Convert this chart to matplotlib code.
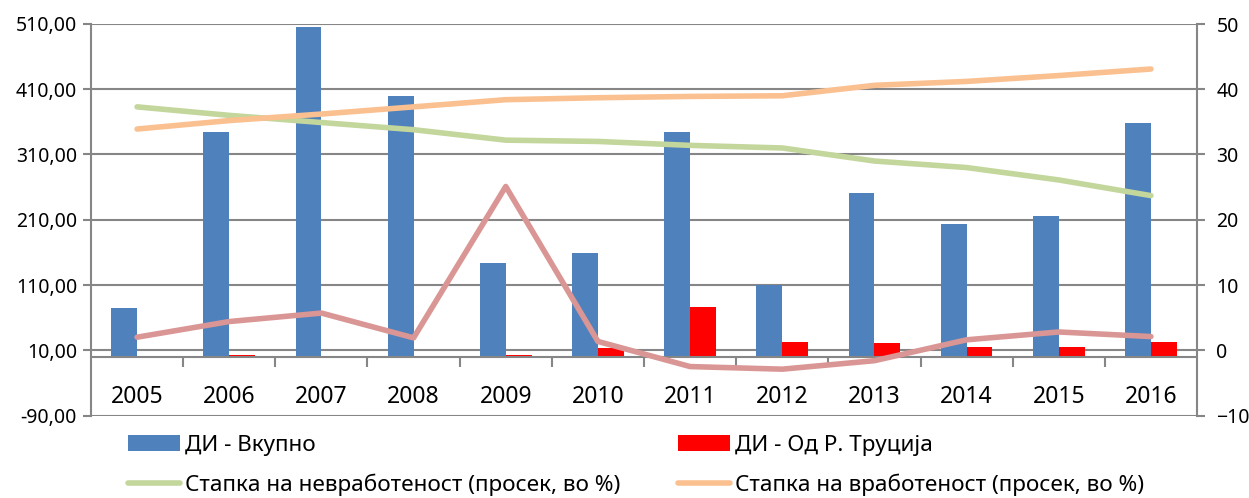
import matplotlib
matplotlib.use("Agg")
import matplotlib.pyplot as plt
import numpy as np
from matplotlib.patches import Patch
from matplotlib.lines import Line2D
from matplotlib.ticker import FuncFormatter, FixedLocator

plt.rcParams['font.family'] = ['Noto Sans', 'DejaVu Sans']

years = ['2005', '2006', '2007', '2008', '2009', '2010', '2011', '2012', '2013', '2014', '2015', '2016']
di_total = [75, 344, 506, 399, 143, 159, 344, 110, 251, 204, 215, 358]
di_turkey = [0, 2, 1, -1, 2, 14, 76, 22, 21, 15, 15, 23]
unemployment = [37.3, 36.0, 34.9, 33.8, 32.2, 32.0, 31.4, 31.0, 29.0, 28.0, 26.1, 23.7]
employment = [33.9, 35.2, 36.2, 37.3, 38.4, 38.7, 38.9, 39.0, 40.6, 41.2, 42.1, 43.1]
other_series = [2.0, 4.4, 5.7, 1.9, 25.1, 1.35, -2.5, -2.9, -1.6, 1.6, 2.8, 2.1]

labels = ['ДИ - Вкупно', 'ДИ - Од Р. Труција',
          'Стапка на невработеност (просек, во %)', 'Стапка на вработеност (просек, во %)']

c_blue = '#4F81BD'
c_red = '#FF0000'
c_green = '#C3D69B'
c_orange = '#FAC090'
c_rose = '#D99694'
grid_c = '#868686'

W, H = 1249, 498
fig = plt.figure(figsize=(W/100, H/100), dpi=100)
ax = fig.add_axes([91/W, 1-415.5/H, (1197-91)/W, (415.5-24)/H])
ax2 = ax.twinx()

x = np.arange(len(years))
w = 0.28
ax.bar(x - w/2, di_total, w, color=c_blue, zorder=2)
ax.bar(x + w/2, di_turkey, w, color=c_red, zorder=2)

ax.set_xlim(-0.5, len(years) - 0.5)
ax.set_ylim(-90, 510)
ax.yaxis.set_major_locator(FixedLocator(np.arange(-90, 511, 100)))
ax.yaxis.set_major_formatter(FuncFormatter(lambda v, p: f"{v:.2f}".replace('.', ',')))
ax.grid(axis='y', color=grid_c, linewidth=1.5)
ax.set_axisbelow(True)

ax.spines['top'].set_visible(False)
ax.spines['bottom'].set_position(('data', 0))
ax.spines['bottom'].set_color(grid_c)
ax.spines['bottom'].set_linewidth(1.5)
ax.spines['left'].set_color(grid_c)
ax.spines['left'].set_linewidth(1.5)
ax.spines['right'].set_visible(False)

ax.set_xticks(x)
ax.set_xticklabels(years, fontsize=16.5)
ax.set_xticks(np.arange(0.5, len(years) - 1, 1), minor=True)
ax.tick_params(axis='x', which='major', length=0, pad=20)
ax.tick_params(axis='x', which='minor', length=7, width=1.5, color=grid_c, direction='out')
ax.tick_params(axis='y', length=6, width=1.5, color=grid_c, labelsize=14, pad=4)

ax2.plot(x, other_series, color=c_rose, lw=4, solid_capstyle='round', zorder=3)
ax2.plot(x, unemployment, color=c_green, lw=4, solid_capstyle='round', zorder=3)
ax2.plot(x, employment, color=c_orange, lw=4, solid_capstyle='round', zorder=3)
ax2.set_ylim(-10, 50)
ax2.set_yticks(np.arange(-10, 51, 10))
ax2.tick_params(axis='y', length=6, width=1.5, color=grid_c, labelsize=14, pad=8)
for s in ['top', 'left', 'bottom']:
    ax2.spines[s].set_visible(False)
ax2.spines['right'].set_color(grid_c)
ax2.spines['right'].set_linewidth(1.5)

h_blue = Patch(facecolor=c_blue)
h_red = Patch(facecolor=c_red)
h_green = Line2D([], [], color=c_green, lw=4, solid_capstyle='round')
h_orange = Line2D([], [], color=c_orange, lw=4, solid_capstyle='round')

leg_kw = dict(frameon=False, fontsize=16.2, handlelength=2.32, handleheight=0.7,
              handletextpad=0.22, labelspacing=0.78, borderpad=0, borderaxespad=0,
              loc='center left')
leg1 = fig.legend([h_blue, h_green], [labels[0], labels[2]],
                  bbox_to_anchor=(128/W, 1-465.5/H), **leg_kw)
leg2 = fig.legend([h_red, h_orange], [labels[1], labels[3]],
                  bbox_to_anchor=(678/W, 1-465.5/H), **leg_kw)

fig.savefig('out.png', dpi=100)
